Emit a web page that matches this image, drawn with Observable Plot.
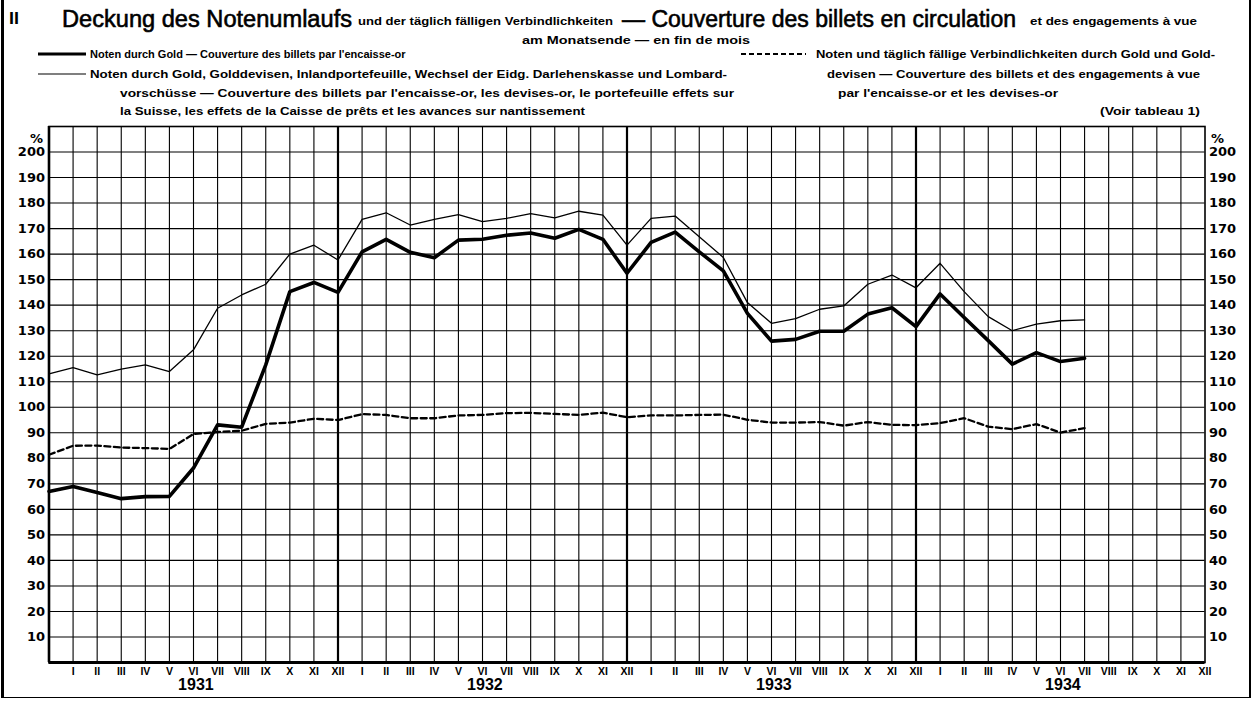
<!DOCTYPE html>
<html><head><meta charset="utf-8">
<script src="https://cdn.jsdelivr.net/npm/d3@7"></script>
<script src="https://cdn.jsdelivr.net/npm/@observablehq/plot@0.6"></script>
<style>
html,body{margin:0;padding:0;background:#fff;}
#wrap{position:relative;width:1260px;height:701px;overflow:hidden;background:#fff;}
#border{position:absolute;left:1px;top:-3px;width:1245px;height:700px;border-left:3px solid #000;border-right:2px solid #000;border-bottom:1.5px solid #000;pointer-events:none}
svg{display:block}
</style></head><body>
<div id="wrap"><div id="header"></div><div id="chart"></div><div id="border"></div></div>
<script>
// ---- Data (month index 0 = December 1930, 43 = July 1934) ----
const romanMonths = ["I","II","III","IV","V","VI","VII","VIII","IX","X","XI","XII"];
const years = ["1931", "1932", "1933", "1934"];
const yTicks = [10,20,30,40,50,60,70,80,90,100,110,120,130,140,150,160,170,180,190,200];

// Noten durch Gold (thick line)
const goldCover = [67.0, 69.0, 66.6, 64.2, 65.0, 65.1, 76.2, 93.1, 92.2, 116.6, 145.3, 148.9, 145.0,
  160.9, 165.8, 160.7, 158.6, 165.5, 165.8, 167.4, 168.3, 166.2, 169.7, 165.8, 152.5,
  164.6, 168.6, 160.9, 153.4, 136.8, 125.9, 126.6, 129.8, 129.8, 136.5, 139.0, 131.6,
  144.4, 135.2, 126.1, 116.9, 121.4, 117.9, 119.2];
// Noten durch Gold, Golddevisen, Inlandportefeuille, ... (thin line)
const totalCover = [113.1, 115.5, 112.7, 114.9, 116.6, 114.0, 122.5, 138.8, 144.0, 148.2, 160.0, 163.5, 157.7,
  173.6, 176.2, 171.4, 173.6, 175.5, 172.7, 174.0, 175.9, 174.2, 176.8, 175.3, 163.5,
  174.0, 174.9, 166.8, 158.7, 141.0, 132.9, 134.7, 138.4, 139.7, 148.2, 151.8, 146.8,
  156.4, 145.3, 135.5, 130.0, 132.6, 133.9, 134.2];
// Noten und täglich fällige Verbindlichkeiten durch Gold und Golddevisen (dashed line)
const goldForexCover = [81.4, 84.9, 85.0, 84.2, 84.0, 83.7, 89.5, 90.3, 90.8, 93.5, 94.0, 95.5, 95.0,
  97.3, 97.0, 95.7, 95.7, 96.8, 97.0, 97.7, 97.8, 97.4, 97.0, 97.9, 96.1,
  96.8, 96.8, 97.0, 97.1, 95.1, 94.0, 94.0, 94.2, 92.8, 94.2, 93.1, 93.0,
  93.8, 95.7, 92.4, 91.4, 93.4, 90.1, 91.8];

// ---- Texts ----
const txtNumber = "II";
const txtTitleDe = "Deckung des Notenumlaufs";
const txtTitleDeSmall = "und der täglich fälligen Verbindlichkeiten";
const txtTitleFr = "— Couverture des billets en circulation";
const txtTitleFrSmall = "et des engagements à vue";
const txtSub = "am Monatsende — en fin de mois";
const txtLeg1 = "Noten durch Gold — Couverture des billets par l'encaisse-or";
const txtLeg2a = "Noten durch Gold, Golddevisen, Inlandportefeuille, Wechsel der Eidg. Darlehenskasse und Lombard-";
const txtLeg2b = "vorschüsse — Couverture des billets par l'encaisse-or, les devises-or, le portefeuille effets sur";
const txtLeg2c = "la Suisse, les effets de la Caisse de prêts et les avances sur nantissement";
const txtLeg3a = "Noten und täglich fällige Verbindlichkeiten durch Gold und Gold-";
const txtLeg3b = "devisen — Couverture des billets et des engagements à vue";
const txtLeg3c = "par l'encaisse-or et les devises-or";
const txtRef = "(Voir tableau 1)";

// ---- Header ----
const FONT = "'Liberation Sans', Arial, sans-serif";
const header = d3.select("#header").append("svg")
  .attr("width", 1260).attr("height", 120)
  .style("font-family", FONT).style("fill", "#000");
function htext(s, x, y, size, width, weight = "bold") {
  const t = header.append("text").attr("x", x).attr("y", y)
    .attr("font-size", size).attr("font-weight", weight).text(s);
  if (width) t.attr("textLength", width).attr("lengthAdjust", "spacingAndGlyphs");
  return t;
}
function title(s, x, y, width) {
  // condensed, tall lettering: narrower font size stretched vertically
  return header.append("text")
    .attr("transform", `translate(${x},${y}) scale(1,1.22)`)
    .attr("font-size", 20).attr("font-weight", "normal")
    .attr("stroke", "#000").attr("stroke-width", 0.5)
    .attr("textLength", width).attr("lengthAdjust", "spacingAndGlyphs")
    .text(s);
}
htext(txtNumber, 9, 24, 17, 10);
title(txtTitleDe, 62, 27, 290);
htext(txtTitleDeSmall, 358, 25, 11, 255);
title(txtTitleFr, 622, 27, 394);
htext(txtTitleFrSmall, 1030, 25, 11, 167);
htext(txtSub, 522, 44, 11, 228);
htext(txtLeg1, 90, 58, 11, null);
htext(txtLeg2a, 90, 78, 11, 637);
htext(txtLeg2b, 120, 97, 11, 614);
htext(txtLeg2c, 120, 115, 11, 465);
htext(txtLeg3a, 816, 58, 11, 399);
htext(txtLeg3b, 827, 78, 11, 373);
htext(txtLeg3c, 838, 97, 11, 220);
htext(txtRef, 1100, 115, 11, 100);
header.append("line").attr("x1", 38).attr("x2", 86).attr("y1", 54).attr("y2", 54)
  .attr("stroke", "#000").attr("stroke-width", 3);
header.append("line").attr("x1", 38).attr("x2", 86).attr("y1", 74).attr("y2", 74)
  .attr("stroke", "#000").attr("stroke-width", 1.2);
header.append("line").attr("x1", 741).attr("x2", 806).attr("y1", 54).attr("y2", 54)
  .attr("stroke", "#000").attr("stroke-width", 2).attr("stroke-dasharray", "5,3");

// ---- Chart ----
const idx = (d, i) => i;
const val = d => d;
const gridMonths = d3.range(1, 48).filter(m => m % 12 !== 0);
const yearBounds = d3.range(12, 48, 12);
const AXFONT = "'DejaVu Sans', sans-serif";

const chart = Plot.plot({
  width: 1260,
  height: 581,
  marginTop: 6,
  marginBottom: 39,
  marginLeft: 48.5,
  marginRight: 55.5,
  style: {fontFamily: FONT, color: "#000", background: "#fff"},
  x: {type: "linear", domain: [0, 48]},
  y: {domain: [0, 210]},
  marks: [
    Plot.ruleX(gridMonths, {stroke: "#000", strokeWidth: 1.1}),
    Plot.ruleY(d3.range(10, 210, 10), {stroke: "#000", strokeWidth: 1.1}),
    Plot.ruleX(yearBounds, {stroke: "#000", strokeWidth: 2.2}),
    Plot.frame({stroke: "#000", strokeWidth: 1.6}),
    Plot.ruleX([0], {stroke: "#000", strokeWidth: 2.6}),
    Plot.ruleY([0], {stroke: "#000", strokeWidth: 3}),
    Plot.line(goldForexCover, {x: idx, y: val, stroke: "#000", strokeWidth: 2.3, strokeDasharray: "6,3.5"}),
    Plot.line(totalCover, {x: idx, y: val, stroke: "#000", strokeWidth: 1.3}),
    Plot.line(goldCover, {x: idx, y: val, stroke: "#000", strokeWidth: 3.6, strokeLinejoin: "round"}),
    Plot.axisY(yTicks, {anchor: "left", tickSize: 0, tickPadding: 4, fontSize: 13, fontWeight: "bold", fontFamily: AXFONT, label: null}),
    Plot.axisY(yTicks, {anchor: "right", tickSize: 0, tickPadding: 4, fontSize: 13, fontWeight: "bold", fontFamily: AXFONT, label: null}),
    Plot.text(["%"], {frameAnchor: "top-left", textAnchor: "end", dx: -6, dy: 7, fontSize: 13, fontWeight: "bold", fontFamily: AXFONT}),
    Plot.text(["%"], {frameAnchor: "top-right", textAnchor: "start", dx: 6, dy: 7, fontSize: 13, fontWeight: "bold", fontFamily: AXFONT}),
    Plot.axisX(d3.range(1, 49), {anchor: "bottom", tickSize: 0, tickPadding: 5, fontSize: 10.5, fontWeight: "bold", tickFormat: m => romanMonths[(m - 1) % 12], label: null}),
    Plot.text(years, {x: (d, i) => i * 12 + 6.1, text: d => d, frameAnchor: "bottom", dy: 27, fontSize: 16, fontWeight: "bold"})
  ]
});
document.getElementById("chart").appendChild(chart);
</script>
</body></html>
